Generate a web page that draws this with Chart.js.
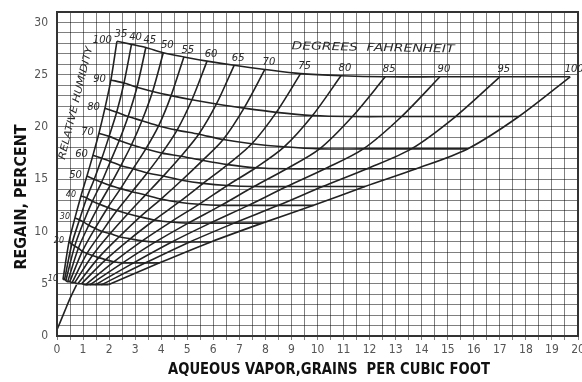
<!DOCTYPE html>
<html>
<head>
<meta charset="utf-8">
<script src="https://cdn.jsdelivr.net/npm/chart.js@4.4.1/dist/chart.umd.min.js"></script>
<style>
  html, body { margin: 0; padding: 0; background: #fff; }
  #wrap { width: 582px; height: 382px; }
</style>
</head>
<body>
<div id="wrap"><canvas id="chart" width="582" height="382"></canvas></div>
<script>
// Regain nomogram — aqueous vapor vs regain, with temperature and RH curves

const TEMPS = [35, 40, 45, 50, 55, 60, 65, 70, 75, 80, 85, 90, 95, 100];
const RH = [10, 20, 30, 40, 50, 60, 70, 80, 90, 100];

// grains per cubic foot, one row per RH, one column per temperature
const VAPOR = [
    [0.23, 0.29, 0.34, 0.41, 0.49, 0.58, 0.68, 0.80, 0.94, 1.09, 1.26, 1.47, 1.70, 1.97],
    [0.46, 0.57, 0.68, 0.82, 0.97, 1.15, 1.36, 1.60, 1.87, 2.18, 2.52, 2.94, 3.40, 3.94],
    [0.69, 0.86, 1.02, 1.22, 1.46, 1.73, 2.04, 2.39, 2.81, 3.27, 3.78, 4.41, 5.10, 5.91],
    [0.92, 1.14, 1.36, 1.63, 1.95, 2.30, 2.72, 3.19, 3.74, 4.36, 5.04, 5.88, 6.80, 7.88],
    [1.15, 1.43, 1.71, 2.04, 2.44, 2.88, 3.40, 3.99, 4.68, 5.45, 6.30, 7.35, 8.50, 9.85],
    [1.38, 1.72, 2.05, 2.45, 2.92, 3.46, 4.08, 4.79, 5.61, 6.54, 7.56, 8.82, 10.20, 11.82],
    [1.61, 2.00, 2.39, 2.86, 3.41, 4.03, 4.76, 5.59, 6.55, 7.63, 8.82, 10.29, 11.90, 13.79],
    [1.84, 2.29, 2.73, 3.26, 3.90, 4.61, 5.44, 6.38, 7.48, 8.72, 10.08, 11.76, 13.60, 15.76],
    [2.07, 2.57, 3.07, 3.67, 4.38, 5.18, 6.12, 7.18, 8.42, 9.81, 11.34, 13.23, 15.30, 17.73],
    [2.30, 2.86, 3.41, 4.08, 4.87, 5.76, 6.80, 7.98, 9.35, 10.90, 12.60, 14.70, 17.00, 19.70]
];

// regain percent, same layout
const REGAIN = [
    [5.4, 5.4, 5.3, 5.2, 5.2, 5.1, 5.1, 5.0, 5.0, 4.9, 4.9, 4.9, 4.9, 4.9],
    [9.0, 8.8, 8.6, 8.4, 8.1, 7.9, 7.7, 7.5, 7.3, 7.1, 7.0, 7.0, 7.0, 7.0],
    [11.3, 11.1, 10.9, 10.6, 10.3, 10.0, 9.8, 9.5, 9.3, 9.1, 9.0, 9.0, 9.0, 9.0],
    [13.4, 13.2, 12.9, 12.6, 12.3, 12.0, 11.7, 11.4, 11.1, 10.9, 10.8, 10.8, 10.8, 10.8],
    [15.3, 15.0, 14.7, 14.4, 14.1, 13.8, 13.5, 13.1, 12.8, 12.6, 12.5, 12.5, 12.5, 12.5],
    [17.3, 17.0, 16.7, 16.3, 16.0, 15.6, 15.3, 14.9, 14.6, 14.4, 14.3, 14.3, 14.3, 14.3],
    [19.4, 19.1, 18.7, 18.3, 17.9, 17.5, 17.2, 16.8, 16.4, 16.1, 16.0, 16.0, 16.0, 16.0],
    [21.8, 21.4, 21.0, 20.6, 20.1, 19.7, 19.3, 18.8, 18.4, 18.1, 17.9, 17.9, 17.9, 17.9],
    [24.5, 24.2, 23.8, 23.4, 23.0, 22.6, 22.2, 21.8, 21.4, 21.1, 21.0, 21.0, 21.0, 21.0],
    [28.2, 27.9, 27.6, 27.1, 26.7, 26.3, 25.9, 25.5, 25.1, 24.9, 24.8, 24.8, 24.8, 24.8]
];

// short curve rising from the origin into the fan
const BASE_X = [0, 0.3, 0.5, 0.75];
const BASE_Y = [0.6, 2.4, 3.6, 4.9];

const Y_LABELS = [0, 5, 10, 15, 20, 25, 30];

const INK = '#222';
const LABEL_FONT = '"Liberation Sans Narrow", "DejaVu Sans Condensed", sans-serif';

function lineSet(points) {
    return {
        data: points,
        showLine: true,
        borderColor: INK,
        borderWidth: 1.6,
        pointRadius: 0,
        tension: 0.3
    };
}

const datasets = [];
RH.forEach((h, i) => {
    datasets.push(lineSet(TEMPS.map((t, j) => ({ x: VAPOR[i][j], y: REGAIN[i][j] }))));
});
TEMPS.forEach((t, j) => {
    datasets.push(lineSet(RH.map((h, i) => ({ x: VAPOR[i][j], y: REGAIN[i][j] }))));
});
datasets.push(lineSet(BASE_X.map((v, k) => ({ x: v, y: BASE_Y[k] }))));

// draw text squeezed/stretched to a given width
function fitText(ctx, str, cx, cy, w, rot) {
    ctx.save();
    ctx.translate(cx, cy);
    ctx.rotate(rot || 0);
    const m = ctx.measureText(str).width;
    ctx.scale(w / m, 1);
    ctx.fillText(str, 0, 0);
    ctx.restore();
}

const annotations = {
    id: 'annotations',
    afterDraw(chart) {
        const { ctx, chartArea: a, scales: { x, y } } = chart;
        ctx.save();

        // frame
        ctx.strokeStyle = '#333';
        ctx.lineWidth = 2;
        ctx.strokeRect(a.left, a.top, a.right - a.left, a.bottom - a.top);

        // temperature labels along the saturation line
        ctx.fillStyle = '#2a2a2a';
        ctx.font = 'italic 10px "DejaVu Sans"';
        ctx.textAlign = 'center';
        ctx.textBaseline = 'bottom';
        const top = VAPOR.length - 1;
        TEMPS.forEach((t, j) => {
            const px = x.getPixelForValue(VAPOR[top][j]) + 4;
            const py = y.getPixelForValue(REGAIN[top][j]) - 2;
            ctx.fillText(String(t), px, py);
        });

        // RH labels at the left ends
        ctx.textAlign = 'right';
        ctx.textBaseline = 'middle';
        RH.forEach((h, i) => {
            ctx.font = (h >= 50 ? 'italic 10px' : 'italic 8px') + ' "DejaVu Sans"';
            const px = x.getPixelForValue(VAPOR[i][0]) - 5;
            const py = y.getPixelForValue(REGAIN[i][0]) - 1;
            ctx.fillText(String(h), px, py);
        });

        ctx.textAlign = 'center';
        ctx.font = 'italic 11px "DejaVu Sans"';
        fitText(ctx, 'DEGREES  FAHRENHEIT', 373, 48, 163, 0.02);
        ctx.font = 'italic 10px "DejaVu Sans"';
        fitText(ctx, 'RELATIVE HUMIDITY', 76, 103, 116, -1.33);

        // axis titles
        ctx.fillStyle = '#111';
        ctx.font = 'bold 16px "DejaVu Sans"';
        fitText(ctx, 'REGAIN, PERCENT', 22, 197, 145, -Math.PI / 2);
        fitText(ctx, 'AQUEOUS VAPOR,GRAINS  PER CUBIC FOOT', 329, 370, 322, 0);

        ctx.restore();
    }
};

new Chart(document.getElementById('chart'), {
    type: 'scatter',
    data: { datasets },
    options: {
        responsive: false,
        animation: false,
        devicePixelRatio: 1,
        layout: { padding: { top: 12, right: 4, left: 0, bottom: 0 } },
        plugins: { legend: { display: false }, tooltip: { enabled: false } },
        scales: {
            x: {
                type: 'linear',
                min: 0,
                max: 20,
                afterFit: s => { s.height = 46; s.paddingLeft = 0; s.paddingRight = 0; },
                ticks: {
                    stepSize: 0.5,
                    autoSkip: false,
                    maxRotation: 0,
                    padding: 3,
                    color: '#555',
                    font: { family: LABEL_FONT, size: 12 },
                    callback: v => Number.isInteger(v) ? String(v) : ''
                },
                grid: { color: 'rgba(0,0,0,0.5)', lineWidth: 1, tickLength: 4 },
                border: { color: '#333', width: 2 }
            },
            y: {
                type: 'linear',
                min: 0,
                max: 31,
                afterFit: s => { s.width = 57; s.paddingTop = 0; s.paddingBottom = 0; },
                ticks: {
                    stepSize: 1,
                    autoSkip: false,
                    padding: 9,
                    color: '#555',
                    font: { family: LABEL_FONT, size: 12 },
                    callback: v => Y_LABELS.includes(v) ? String(v) : ''
                },
                grid: { color: 'rgba(0,0,0,0.5)', lineWidth: 1, tickLength: 0 },
                border: { color: '#333', width: 2 }
            }
        }
    },
    plugins: [annotations]
});
</script>
</body>
</html>
